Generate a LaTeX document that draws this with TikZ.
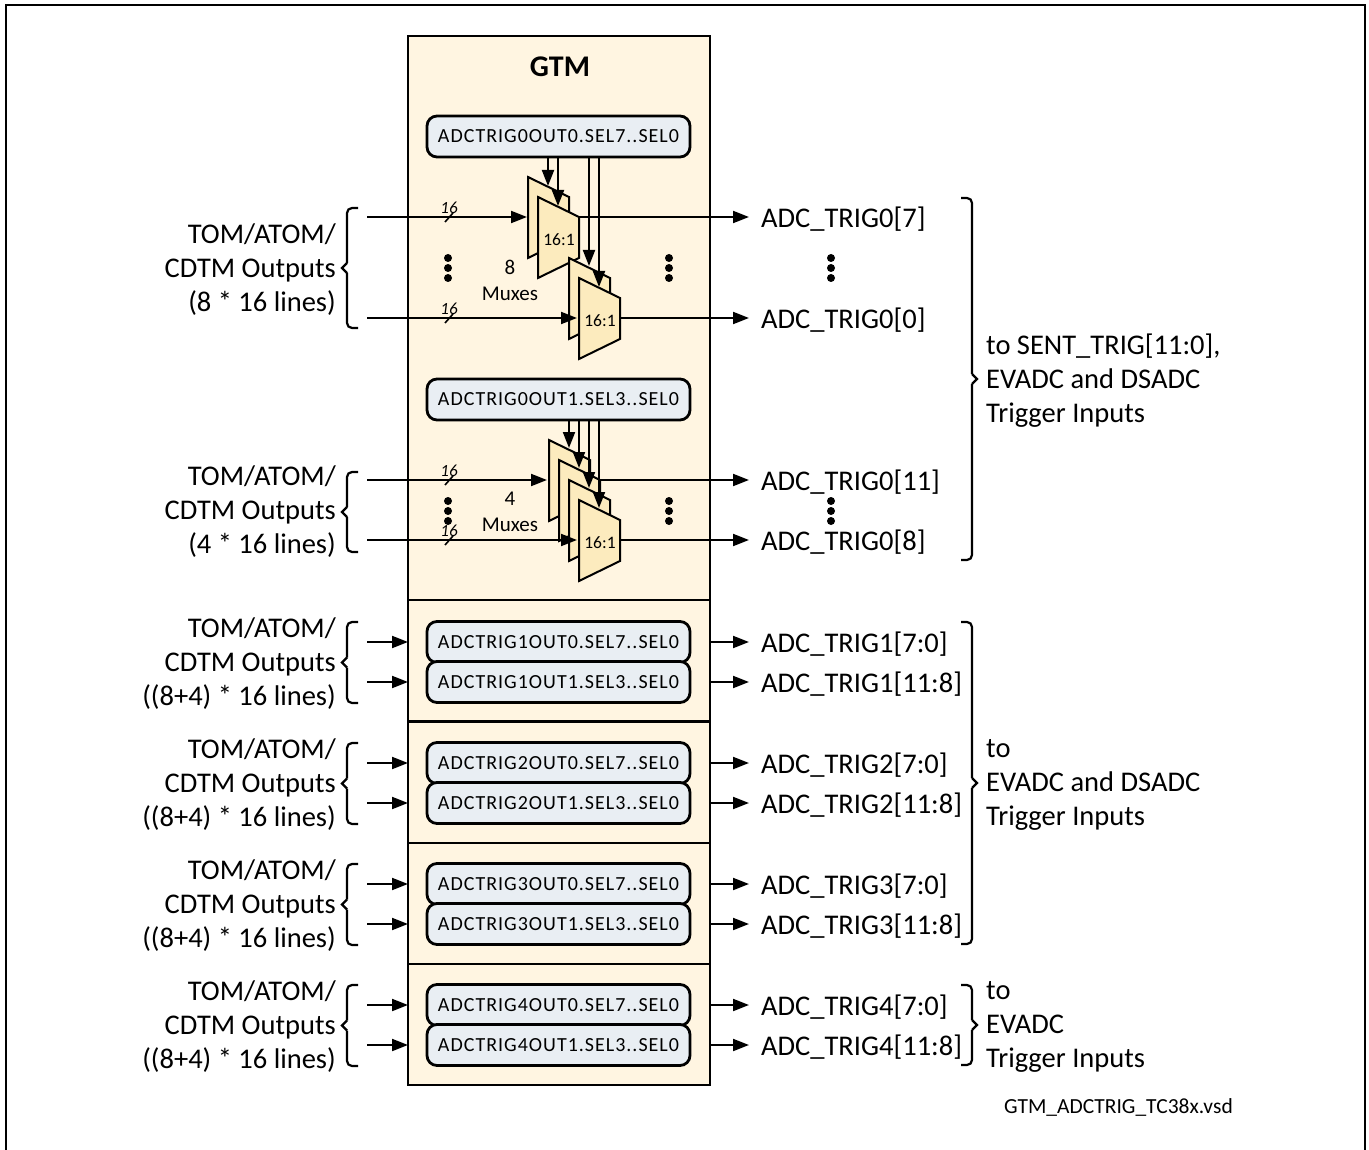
\documentclass[tikz,border=0pt]{standalone}
\usepackage{fontspec}
\setmainfont{Carlito}
\newfontfamily\selfont[LetterSpace=5]{Carlito}
\usetikzlibrary{arrows.meta,positioning}
\definecolor{gtmfill}{HTML}{FFF5E1}
\definecolor{muxfill}{HTML}{FCEBBE}
\definecolor{selfill}{HTML}{E9EEF3}
\tikzset{
    sect/.style={draw, fill=gtmfill, line width=2.6pt, anchor=north west, inner sep=0pt, outer sep=0pt, minimum width=302pt},
    selbox/.style={draw, fill=selfill, line width=2.8pt, rounded corners=10pt, minimum width=263pt, minimum height=41pt, inner sep=0pt, outer sep=0pt, font=\selfont\fontsize{20}{23}\selectfont},
    sig/.style={->, line width=2pt},
    inlabel/.style={align=right, anchor=east, inner sep=0pt, font=\fontsize{28.5}{34}\selectfont},
    outlabel/.style={anchor=west, inner sep=0pt, font=\fontsize{28.5}{34}\selectfont},
    blocklabel/.style={align=left, anchor=west, inner sep=0pt, font=\fontsize{28.5}{34}\selectfont},
    brc/.style={line width=2.2pt},
    muxtxt/.style={align=center, inner sep=0pt, font=\fontsize{21}{26}\selectfont},
    buswidth/.style={inner sep=0pt, font=\itshape\fontsize{17}{17}\selectfont},
    vdot/.style={circle, fill=black, minimum size=8pt, inner sep=0pt},
    muxpic/.pic={
        \draw[fill=muxfill, line width=2pt, line join=miter] (0,0) -- (41,20) -- (41,61) -- (0,81) -- cycle;
    },
    muxfront/.pic={
        \draw[fill=muxfill, line width=2pt, line join=miter] (0,0) -- (41,20) -- (41,61) -- (0,81) -- cycle;
        \node[inner sep=0pt, font=\fontsize{17.5}{18}\selectfont] at (21,43) {16:1};
    },
}
\newcommand{\leftbrc}[2]{%
    \draw[brc, rounded corners=5pt] (358,#1) -- (347,#1) -- (347,{(#1+#2)/2-5});
    \draw[brc, rounded corners=5pt] (358,#2) -- (347,#2) -- (347,{(#1+#2)/2+5});
    \draw[brc] (347,{(#1+#2)/2-5}) -- (342,{(#1+#2)/2}) -- (347,{(#1+#2)/2+5});
}
\newcommand{\rightbrc}[2]{%
    \draw[brc, rounded corners=5pt] (961,#1) -- (972,#1) -- (972,{(#1+#2)/2-5});
    \draw[brc, rounded corners=5pt] (961,#2) -- (972,#2) -- (972,{(#1+#2)/2+5});
    \draw[brc] (972,{(#1+#2)/2-5}) -- (977,{(#1+#2)/2}) -- (972,{(#1+#2)/2+5});
}
\begin{document}
\begin{tikzpicture}[x=1pt, y=-1pt, >={Stealth[length=16pt, width=12pt, inset=0pt]}]
    \useasboundingbox (0,0) rectangle (1369,1150);

    % outer frame
    \draw[line width=1.3pt] (6,1150) -- (6,5) -- (1365,5) -- (1365,1150);

    % GTM sections
    \node[sect, minimum height=564pt] (top) at (408,36) {};
    \foreach \n/\y in {1/600, 2/722, 3/843, 4/964} {
        \node[sect, minimum height=121pt] (sec\n) at (408,\y) {};
    }
    \node[font=\bfseries\fontsize{30}{36}\selectfont] (gtm) at (560,67) {GTM};

    % select registers of trigger 0
    \node[selbox] (sel0a) at (558.5,136.5) {ADCTRIG0OUT0.SEL7..SEL0};
    \node[selbox] (sel0b) at (558.5,399.5) {ADCTRIG0OUT1.SEL3..SEL0};

    % muxes
    \pic at (528,177) {muxpic};
    \pic at (538,197) {muxfront};
    \pic at (569,258) {muxpic};
    \pic at (579,278) {muxfront};
    \foreach \x/\y in {549/440, 559/460, 569/480} {
        \pic at (\x,\y) {muxpic};
    }
    \pic at (579,500) {muxfront};

    % select lines
    \foreach \x/\y in {548/186, 558/206, 589/266, 599/287} {
        \coordinate (s) at (\x,\y);
        \draw[sig] (s |- sel0a.south) -- (s);
    }
    \foreach \x/\y in {569/448, 579/468, 589/488, 599/508} {
        \coordinate (s) at (\x,\y);
        \draw[sig] (s |- sel0b.south) -- (s);
    }

    % trigger 0 outputs and inputs
    \foreach \n/\y/\a/\b/\t in {a/217/527/579/7, b/318/577/619/0, c/480/547/599/11, d/540/577/619/8} {
        \node[outlabel] (out\n) at (761,\y+2) {ADC\_TRIG0[\t]};
        \coordinate (in\n) at (367,\y);
        \coordinate (ti\n) at (\a,\y);
        \coordinate (so\n) at (\b,\y);
        \coordinate (te\n) at (749,\y);
        \draw[sig] (in\n) -- (ti\n);
        \draw[sig] (so\n) -- (te\n);
    }

    % bus width marks
    \foreach \n/\y in {a/217, b/318, c/480, d/540} {
        \node[buswidth] (w\n) at (449,\y-9) {16};
        \draw[line width=1.6pt] (445,\y+5) -- (453,\y-4);
    }

    % dots
    \foreach \x in {448, 669, 831} {
        \foreach \y in {258, 268, 278, 501, 511, 521} {
            \node[vdot] at (\x,\y) {};
        }
    }
    \node[muxtxt] (cnt8) at (510,280) {8\\Muxes};
    \node[muxtxt] (cnt4) at (510,512) {4\\Muxes};

    % left labels of trigger 0
    \node[inlabel] (lab0a) at (336,270) {TOM/ATOM/\\CDTM Outputs\\(8 * 16 lines)};
    \node[inlabel] (lab0b) at (336,512) {TOM/ATOM/\\CDTM Outputs\\(4 * 16 lines)};
    \leftbrc{208}{328}
    \leftbrc{472}{552}

    % triggers 1 to 4
    \foreach \n/\y in {1/622, 2/743, 3/864, 4/985} {
        \node[selbox] (sel\n a) at (558.5,\y+20) {ADCTRIG\n OUT0.SEL7..SEL0};
        \node[selbox] (sel\n b) at (558.5,\y+60) {ADCTRIG\n OUT1.SEL3..SEL0};
        \node[inlabel] (lab\n) at (336,\y+42) {TOM/ATOM/\\CDTM Outputs\\((8+4) * 16 lines)};
        \node[outlabel] (out\n a) at (761,\y+22) {ADC\_TRIG\n[7:0]};
        \node[outlabel] (out\n b) at (761,\y+62) {ADC\_TRIG\n[11:8]};
        \leftbrc{\y}{\y+81}
        \foreach \s/\d in {a/20, b/60} {
            \coordinate (i\n\s) at (367,\y+\d);
            \coordinate (e\n\s) at (749,\y+\d);
            \draw[sig] (i\n\s) -- (408,\y+\d);
            \draw[sig] (710,\y+\d) -- (e\n\s);
        }
    }

    % right braces and targets
    \rightbrc{198}{560}
    \rightbrc{622}{944}
    \rightbrc{985}{1065}
    \node[blocklabel] (to0) at (986,381) {to SENT\_TRIG[11:0],\\EVADC and DSADC\\Trigger Inputs};
    \node[blocklabel] (to1) at (986,785) {to\\EVADC and DSADC\\Trigger Inputs};
    \node[blocklabel] (to2) at (986,1027) {to\\EVADC\\Trigger Inputs};

    \node[anchor=east, inner sep=0pt, font=\fontsize{21.5}{23}\selectfont] (fname) at (1233,1107) {GTM\_ADCTRIG\_TC38x.vsd};
\end{tikzpicture}
\end{document}
